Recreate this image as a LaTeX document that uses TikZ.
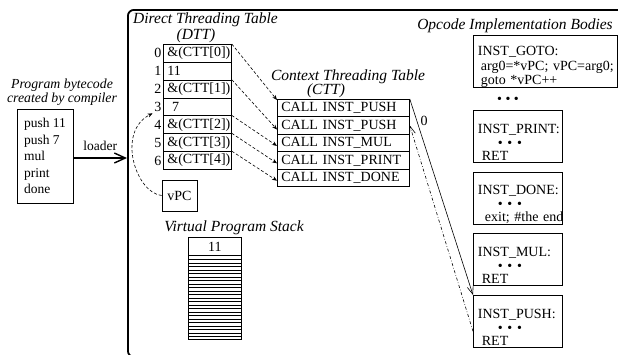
\documentclass[tikz,border=0pt]{standalone}
\usepackage{fontspec}
\setmainfont{Liberation Serif}
\usetikzlibrary{arrows.meta,calc}
\tikzset{
  body/.style={font=\fontsize{14}{16}\selectfont},
  small/.style={font=\fontsize{13.5}{16.5}\selectfont},
  ttl/.style={font=\fontsize{15.5}{17}\selectfont\itshape, inner sep=0pt},
  ttlsmall/.style={font=\fontsize{13.8}{12.5}\selectfont\itshape, inner sep=0pt},
  box/.style={draw, line width=0.8pt},
  dttrow/.style={box, anchor=north west, text width=60pt, inner xsep=4pt, inner ysep=0pt, minimum height=17.86pt, align=left, body},
  cttrow/.style={box, anchor=north west, text width=124pt, inner xsep=4pt, inner ysep=0pt, minimum height=17.4pt, align=left, body},
  idx/.style={anchor=east, inner sep=1.5pt, body},
  opbox/.style={box, anchor=north west, text width=80pt, inner xsep=4.5pt, inner ysep=0pt, minimum height=52pt, align=left, font=\fontsize{14}{13.5}\selectfont},
  ptr/.style={densely dashed, line width=0.6pt, -{Stealth[length=5pt,width=4pt]}},
  vee/.style={-{Straight Barb[length=8pt,width=6pt]}, line width=0.6pt},
}
\newcommand{\dotsrow}{\textbullet\ \textbullet\ \textbullet}
\newcommand{\opbody}[2]{\mbox{\rule{0pt}{22pt}#1}\\\mbox{\hspace*{20pt}\dotsrow}\\\mbox{#2}}
\begin{document}
\begin{tikzpicture}[x=1pt,y=-1pt]
\useasboundingbox (0,0) rectangle (618,354);
\clip (0,0) rectangle (618,354);
% main container
\node[draw, line width=1.8pt, rounded corners=6pt, anchor=north west, minimum width=520pt, minimum height=347pt, inner sep=0pt] (main) at (127,9) {};
% program bytecode
\node[ttlsmall, align=center] (ptitle) at (62,92) {Program bytecode\\created by compiler};
\node[box, minimum width=56pt, minimum height=94pt, align=left, small] (prog) at (45,156) {push 11\\push 7\\mul\\print\\done};
\draw[line width=1.4pt, -{Straight Barb[length=11pt,width=10pt]}] ([yshift=-2pt]prog.east) -- ([yshift=-2pt]prog.east -| main.west) node[midway, above=3pt, small] (ldr) {loader};
% DTT
\node[ttl, anchor=west] (dtitle) at (133,20) {Direct Threading Table};
\node[ttl] (dsub) at (196,36) {(DTT)};
\node[dttrow] (d0) at (163,44.00) {\&(CTT[0])};
\node[dttrow] (d1) at (163,61.86) {11};
\node[dttrow] (d2) at (163,79.72) {\&(CTT[1])};
\node[dttrow] (d3) at (163,97.58) {\ 7};
\node[dttrow] (d4) at (163,115.44) {\&(CTT[2])};
\node[dttrow] (d5) at (163,133.30) {\&(CTT[3])};
\node[dttrow] (d6) at (163,151.16) {\&(CTT[4])};
\node[idx] (i0) at (d0.west) {0};
\node[idx] (i1) at (d1.west) {1};
\node[idx] (i2) at (d2.west) {2};
\node[idx] (i3) at (d3.west) {3};
\node[idx] (i4) at (d4.west) {4};
\node[idx] (i5) at (d5.west) {5};
\node[idx] (i6) at (d6.west) {6};
% vPC
\node[box, minimum width=35pt, minimum height=31pt, inner sep=0pt, body] (vpc) at (179.5,195.5) {vPC};
\draw[ptr] (vpc.west) .. controls (136,193) and (116,132) .. (i3.south west);
% stack
\node[ttl] (stitle) at (234,228) {Virtual Program Stack};
\node[box, anchor=north west, minimum width=53pt, minimum height=102pt, inner sep=0pt] (stk) at (188,237) {};
\node[box, anchor=north west, minimum width=53pt, minimum height=18pt, inner sep=0pt, body] (s0) at (188,237) {11};
\foreach \k in {1,...,23}
  \draw[line width=0.6pt] ($(s0.south west)+(0,3.5*\k)$) -- ($(s0.south east)+(0,3.5*\k)$);
% CTT
\node[ttl] (ctitle) at (348,77) {Context Threading Table};
\node[ttl] (csub) at (326,91) {(CTT)};
\node[cttrow] (c0) at (277,99.0) {CALL INST\_PUSH};
\node[cttrow] (c1) at (277,116.4) {CALL INST\_PUSH};
\node[cttrow] (c2) at (277,133.8) {CALL INST\_MUL};
\node[cttrow] (c3) at (277,151.2) {CALL INST\_PRINT};
\node[cttrow] (c4) at (277,168.6) {CALL INST\_DONE};
% DTT -> CTT
\draw[ptr] (d0.north east) -- ([yshift=-1pt]c0.north west);
\draw[ptr] (d2.north east) -- ([yshift=-4pt]c1.west);
\draw[ptr] (d4.north east) -- ([yshift=-3pt]c2.west);
\draw[ptr] (d5.north east) -- ([yshift=-3pt]c3.west);
\draw[ptr] (d6.north east) -- ([yshift=-3pt]c4.west);
% Opcode bodies
\node[ttl] (otitle) at (515,26) {Opcode Implementation Bodies};
\node[box, anchor=north west, text width=135pt, inner xsep=4.5pt, inner ysep=0pt, minimum height=52pt, align=left, font=\fontsize{14}{12}\selectfont] (go) at (473,35)
  {\mbox{\rule{0pt}{20.5pt}INST\_GOTO:}\\[3pt]\mbox{\hspace*{3pt}arg0=*vPC; vPC=arg0;}\\\mbox{\hspace*{3pt}goto *vPC++}};
\node[font=\fontsize{14}{14}\selectfont] (gdots) at (508,100) {\dotsrow};
\node[opbox] (pr) at (473,110) {\opbody{INST\_PRINT:}{\hspace*{4pt}RET}};
\node[opbox] (dn) at (473,172) {\opbody{INST\_DONE:}{\hspace*{7pt}exit; \#the end}};
\node[opbox] (ml) at (473,233) {\opbody{INST\_MUL:}{\hspace*{4pt}RET}};
\node[opbox] (ps) at (473,295) {\opbody{INST\_PUSH:}{\hspace*{4pt}RET}};
% CTT -> INST_PUSH and return
\draw[vee] (c0.north east) -- (ps.north west);
\node[body] (zero) at (424,121) {0};
\draw[vee, dash dot] ([yshift=-10pt]ps.west) -- (c1.east);
\end{tikzpicture}
\end{document}
